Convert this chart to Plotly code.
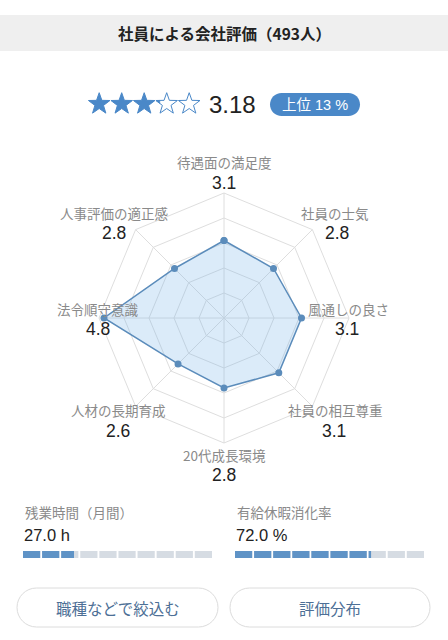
import plotly.graph_objects as go
import numpy as np

# ---------------- data ----------------
title_text = "社員による会社評価（493人）"
overall_rating = 3.18
rank_label = "上位 13 %"
categories = ["待遇面の満足度", "社員の士気", "風通しの良さ", "社員の相互尊重",
              "20代成長環境", "人材の長期育成", "法令順守意識", "人事評価の適正感"]
scores = [3.1, 2.8, 3.1, 3.1, 2.8, 2.6, 4.8, 2.8]
overtime_label = "残業時間（月間）"
overtime_hours = 27.0
paid_leave_label = "有給休暇消化率"
paid_leave_rate = 72.0
button_labels = ["職種などで絞込む", "評価分布"]

# ---------------- style ----------------
W, H = 448, 640
FONT = "Noto Sans CJK JP"
NUMFONT = "Liberation Sans, Noto Sans CJK JP"
BLUE = "#4a88c8"
RADAR = "#5b8cbb"
GRID = "#dedede"
GRAY_TXT = "#8a8a8a"
DARK = "#222222"

fig = go.Figure()

# pixel-space helper axis
fig.update_layout(
    width=W, height=H, margin=dict(l=0, r=0, t=0, b=0),
    paper_bgcolor="white", plot_bgcolor="rgba(0,0,0,0)", showlegend=False,
    barmode="overlay",
    xaxis=dict(range=[0, W], domain=[0, 1], visible=False, fixedrange=True),
    yaxis=dict(range=[H, 0], domain=[0, 1], visible=False, fixedrange=True),
)

# ---------------- stars ----------------
def star_poly(cx, cy, R, r):
    pts = []
    for k in range(10):
        ang = np.pi / 2 - k * np.pi / 5
        rad = R if k % 2 == 0 else r
        pts.append((cx + rad * np.cos(ang), cy - rad * np.sin(ang)))
    return pts

def clip_left(poly, xc):
    out = []
    n = len(poly)
    for i in range(n):
        p, q = poly[i], poly[(i + 1) % n]
        pin, qin = p[0] <= xc, q[0] <= xc
        if pin:
            out.append(p)
        if pin != qin:
            t = (xc - p[0]) / (q[0] - p[0])
            out.append((xc, p[1] + t * (q[1] - p[1])))
    return out

star_x0, star_dx, star_cy, R = 99.2, 22.5, 104.0, 11.3
for i in range(5):
    cx = star_x0 + i * star_dx
    poly = star_poly(cx, star_cy, R, R * 0.40)
    frac = min(max(overall_rating - i, 0), 1)
    xs = [p[0] for p in poly] + [poly[0][0]]
    ys = [p[1] for p in poly] + [poly[0][1]]
    if frac >= 1:
        fig.add_trace(go.Scatter(x=xs, y=ys, mode="lines", fill="toself",
                                 fillcolor=BLUE, line=dict(color=BLUE, width=1),
                                 hoverinfo="skip"))
    else:
        if frac > 0:
            left = min(p[0] for p in poly)
            right = max(p[0] for p in poly)
            cp = clip_left(poly, left + frac * (right - left))
            fig.add_trace(go.Scatter(x=[p[0] for p in cp] + [cp[0][0]],
                                     y=[p[1] for p in cp] + [cp[0][1]],
                                     mode="lines", fill="toself", fillcolor=BLUE,
                                     line=dict(color=BLUE, width=0.5),
                                     hoverinfo="skip"))
        fig.add_trace(go.Scatter(x=xs, y=ys, mode="lines",
                                 line=dict(color=BLUE, width=1), hoverinfo="skip"))

# ---------------- radar ----------------
cx, cy, rad = 224, 318, 125
fig.add_trace(go.Scatterpolar(
    r=scores + [scores[0]], theta=categories + [categories[0]],
    mode="lines+markers", fill="toself",
    fillcolor="rgba(110,175,230,0.25)",
    line=dict(color=RADAR, width=1.5),
    marker=dict(color=RADAR, size=7),
    hoverinfo="skip",
))
fig.update_layout(polar=dict(
    domain=dict(x=[(cx - rad) / W, (cx + rad) / W],
                y=[(H - cy - rad) / H, (H - cy + rad) / H]),
    gridshape="linear", bgcolor="white",
    radialaxis=dict(range=[0, 5], tickvals=[1, 2, 3, 4, 5], showticklabels=False,
                    ticks="", showline=False, gridcolor=GRID, gridwidth=1),
    angularaxis=dict(rotation=90, direction="clockwise", showticklabels=False,
                     ticks="", showline=True, linecolor=GRID, linewidth=1,
                     gridcolor=GRID, gridwidth=1),
))

# ---------------- segmented bars ----------------
n_seg, gap = 10, 1.0
seg_w = (100 - gap * (n_seg - 1)) / n_seg
bases = [i * (seg_w + gap) for i in range(n_seg)]

def add_seg_bar(value, xa, ya):
    fig.add_trace(go.Bar(orientation="h", y=[0] * n_seg, base=bases, x=[seg_w] * n_seg,
                         width=1, marker=dict(color="#d6dce3", line=dict(width=0)),
                         xaxis=xa, yaxis=ya, hoverinfo="skip"))
    filled = [min(max(value - b, 0), seg_w) for b in bases]
    fig.add_trace(go.Bar(orientation="h", y=[0] * n_seg, base=bases, x=filled,
                         width=1, marker=dict(color="#5f93c6", line=dict(width=0)),
                         xaxis=xa, yaxis=ya, hoverinfo="skip"))

add_seg_bar(overtime_hours, "x2", "y2")
add_seg_bar(paid_leave_rate, "x3", "y3")
bar_y = [(H - 558) / H, (H - 551) / H]
fig.update_layout(
    xaxis2=dict(domain=[23 / W, 212 / W], range=[0, 100], visible=False, fixedrange=True),
    yaxis2=dict(domain=bar_y, range=[-0.5, 0.5], visible=False, fixedrange=True),
    xaxis3=dict(domain=[235 / W, 424 / W], range=[0, 100], visible=False, fixedrange=True),
    yaxis3=dict(domain=bar_y, range=[-0.5, 0.5], visible=False, fixedrange=True),
)

# ---------------- shapes ----------------
def pill(x0, x1, y0, y1):
    r = (y1 - y0) / 2
    k = 0.5523 * r
    ym = (y0 + y1) / 2
    return (f"M {x0 + r},{y0} L {x1 - r},{y0} "
            f"C {x1 - r + k},{y0} {x1},{ym - k} {x1},{ym} "
            f"C {x1},{ym + k} {x1 - r + k},{y1} {x1 - r},{y1} "
            f"L {x0 + r},{y1} "
            f"C {x0 + r - k},{y1} {x0},{ym + k} {x0},{ym} "
            f"C {x0},{ym - k} {x0 + r - k},{y0} {x0 + r},{y0} Z")

shapes = [
    dict(type="rect", xref="x", yref="y", x0=0, x1=W, y0=15, y1=51,
         fillcolor="#efefef", line=dict(width=0), layer="below"),
    dict(type="path", xref="x", yref="y", path=pill(270, 360, 93, 116),
         fillcolor=BLUE, line=dict(width=0), layer="below"),
    dict(type="path", xref="x", yref="y", path=pill(17, 218, 588, 627),
         fillcolor="white", line=dict(color="#dcdcdc", width=1), layer="below"),
    dict(type="path", xref="x", yref="y", path=pill(230, 430, 588, 627),
         fillcolor="white", line=dict(color="#dcdcdc", width=1), layer="below"),
]
fig.update_layout(shapes=shapes)

# ---------------- annotations ----------------
ann = []
def txt(x, y, s, size, color, xanchor="center", bold=False, family=FONT):
    ann.append(dict(xref="x", yref="y", x=x, y=y, text=f"<b>{s}</b>" if bold else s,
                    showarrow=False, xanchor=xanchor, yanchor="middle",
                    font=dict(family=family, size=size, color=color)))

txt(224, 33, title_text, 15.5, DARK, bold=True)
txt(232, 104, f"{overall_rating:.2f}", 24, DARK, family=NUMFONT)
txt(315, 104.5, rank_label, 14.5, "white", family=NUMFONT)

label_pos = [(224, 162, 224, 183), (335, 212.5, 337, 233), (348, 308.5, 347, 329),
             (335, 409.5, 334, 431), (224, 454.5, 224, 475), (118, 409.5, 118, 431),
             (98, 308.5, 98, 329), (114, 212.5, 114, 233)]
for name, val, (lx, ly, vx, vy) in zip(categories, scores, label_pos):
    txt(lx, ly, name, 13.5, GRAY_TXT)
    txt(vx, vy, f"{val:.1f}", 17.5, DARK, family=NUMFONT)

txt(23, 512, overtime_label, 13.5, GRAY_TXT, xanchor="left")
txt(22, 535, f"{overtime_hours:.1f} h", 16.5, DARK, xanchor="left", family=NUMFONT)
txt(235, 512, paid_leave_label, 13.5, GRAY_TXT, xanchor="left")
txt(234, 535, f"{paid_leave_rate:.1f} %", 16.5, DARK, xanchor="left", family=NUMFONT)

txt(117.5, 608, button_labels[0], 15.5, "#4d6f96")
txt(330, 608, button_labels[1], 15.5, "#4d6f96")

fig.update_layout(annotations=ann)

fig.write_html("out.html")
